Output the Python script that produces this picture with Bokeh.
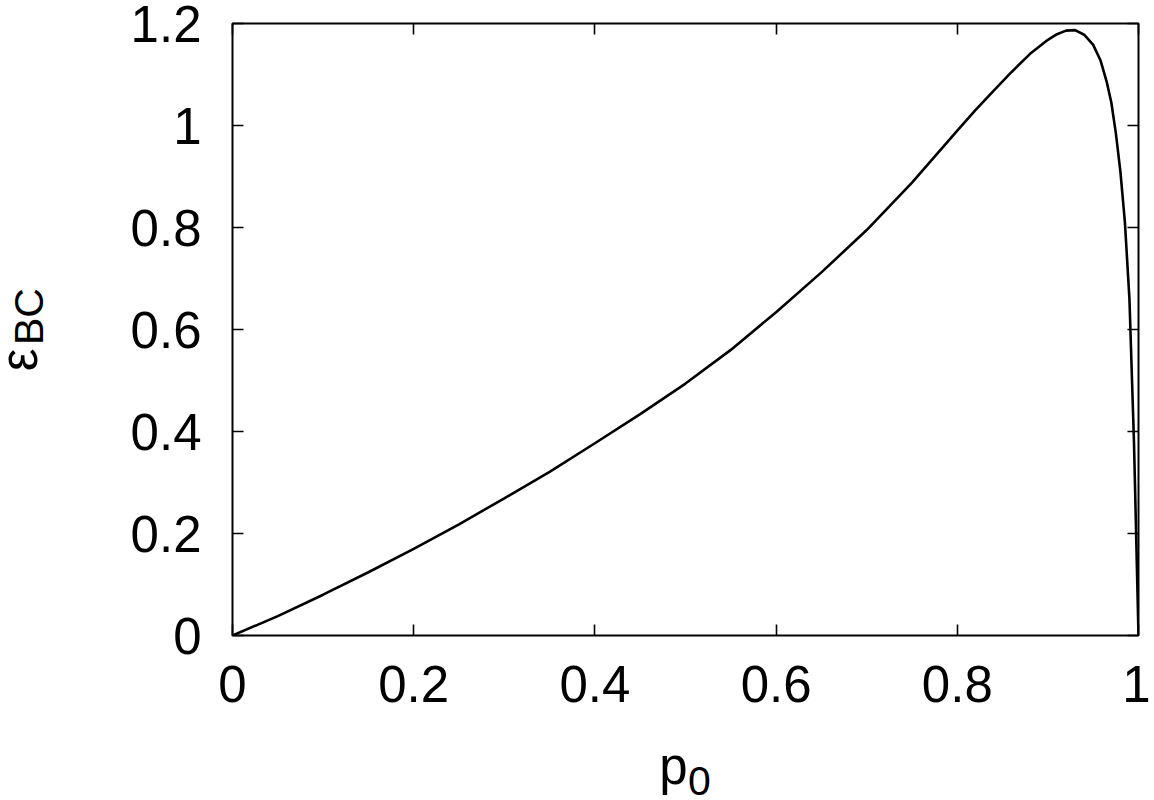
import math
from bokeh.plotting import figure
from bokeh.layouts import column, row
from bokeh.models import LinearAxis, FixedTicker, Range1d
from bokeh.core.properties import value
from bokeh.embed import file_html
from bokeh.resources import INLINE

# data
p0 = [0, 0.05, 0.1, 0.15, 0.2, 0.25, 0.3, 0.35, 0.4, 0.45, 0.5, 0.55, 0.6, 0.65,
      0.7, 0.75, 0.8, 0.82, 0.84, 0.86, 0.88, 0.9, 0.91, 0.92, 0.93, 0.94, 0.95,
      0.958, 0.965, 0.97, 0.975, 0.98, 0.985, 0.99, 0.995, 1.0]
eps_bc = [0, 0.038, 0.080, 0.124, 0.170, 0.218, 0.269, 0.321, 0.377, 0.434, 0.494,
          0.56, 0.634, 0.712, 0.795, 0.888, 0.99, 1.030, 1.068, 1.105, 1.140, 1.168,
          1.179, 1.186, 1.187, 1.178, 1.158, 1.128, 1.085, 1.045, 0.985, 0.91, 0.81,
          0.66, 0.38, 0.0]
x_ticks = [0, 0.2, 0.4, 0.6, 0.8, 1.0]
y_ticks = [0, 0.2, 0.4, 0.6, 0.8, 1.0, 1.2]
x_title = ["p", "0"]          # p with subscript 0
y_title = ["ε", "BC"]         # epsilon with subscript BC

FONT = "Liberation Sans"
BASE_FS = 51
SUB_FS = 41

LEFT_W = 70                    # width of the y-title strip
MAIN_H = 735
BOTTOM_H = 65
TOTAL_W = 1150

# ---------------- main plot ----------------
p = figure(frame_width=906, frame_height=612, output_backend="svg",
           toolbar_location=None, x_range=Range1d(0, 1), y_range=Range1d(0, 1.2),
           min_border_left=232 - LEFT_W, min_border_right=12, min_border_top=23,
           min_border_bottom=MAIN_H - 23 - 612)
p.background_fill_color = "white"
p.border_fill_color = "white"
p.outline_line_color = "black"
p.outline_line_width = 2
p.xgrid.visible = False
p.ygrid.visible = False

p.line(p0, eps_bc, line_color="black", line_width=2.6)

def style(ax, ticks, show_labels, standoff):
    ax.ticker = FixedTicker(ticks=ticks)
    ax.major_tick_in = 11
    ax.major_tick_out = 0
    ax.minor_tick_line_color = None
    ax.major_tick_line_color = "black"
    ax.major_tick_line_width = 1.6
    ax.axis_line_color = None
    ax.major_label_text_font = FONT
    ax.major_label_text_font_size = f"{BASE_FS}px" if show_labels else "0px"
    ax.major_label_text_color = "black"
    ax.major_label_standoff = standoff
    ax.major_label_overrides = {0: "0", 1: "1"}

for ax in p.xaxis:
    style(ax, x_ticks, True, 30)
for ax in p.yaxis:
    style(ax, y_ticks, True, 31)

top = LinearAxis()
style(top, x_ticks, False, 0)
p.add_layout(top, "above")
right = LinearAxis()
style(right, y_ticks, False, 0)
p.add_layout(right, "right")

# ---------------- y title strip ----------------
yl = figure(width=LEFT_W, height=MAIN_H, output_backend="svg", toolbar_location=None,
            x_range=Range1d(0, LEFT_W), y_range=Range1d(MAIN_H, 0),
            x_axis_type=None, y_axis_type=None, min_border=0)
yl.outline_line_color = None
yl.grid.visible = False
yl.text(x=[19], y=[404], text=[y_title[0]], angle=math.pi / 2,
        text_font=value(FONT), text_font_size=f"{BASE_FS}px",
        text_align="center", text_baseline="middle", text_color="black")
yl.text(x=[28], y=[352], text=[y_title[1]], angle=math.pi / 2,
        text_font=value(FONT), text_font_size=f"{SUB_FS}px",
        text_align="center", text_baseline="middle", text_color="black")

# ---------------- x title strip ----------------
xl = figure(width=TOTAL_W, height=BOTTOM_H, output_backend="svg", toolbar_location=None,
            x_range=Range1d(0, TOTAL_W), y_range=Range1d(BOTTOM_H, 0),
            x_axis_type=None, y_axis_type=None, min_border=0)
xl.outline_line_color = None
xl.grid.visible = False
xl.text(x=[673], y=[766 - MAIN_H], text=[x_title[0]],
        text_font=value(FONT), text_font_size=f"{BASE_FS}px",
        text_align="center", text_baseline="middle", text_color="black")
xl.text(x=[699], y=[780 - MAIN_H], text=[x_title[1]],
        text_font=value(FONT), text_font_size=f"{SUB_FS}px",
        text_align="center", text_baseline="middle", text_color="black")

layout = column(row(yl, p, spacing=0), xl, spacing=0)
open("out.html", "w").write(file_html(layout, INLINE))
